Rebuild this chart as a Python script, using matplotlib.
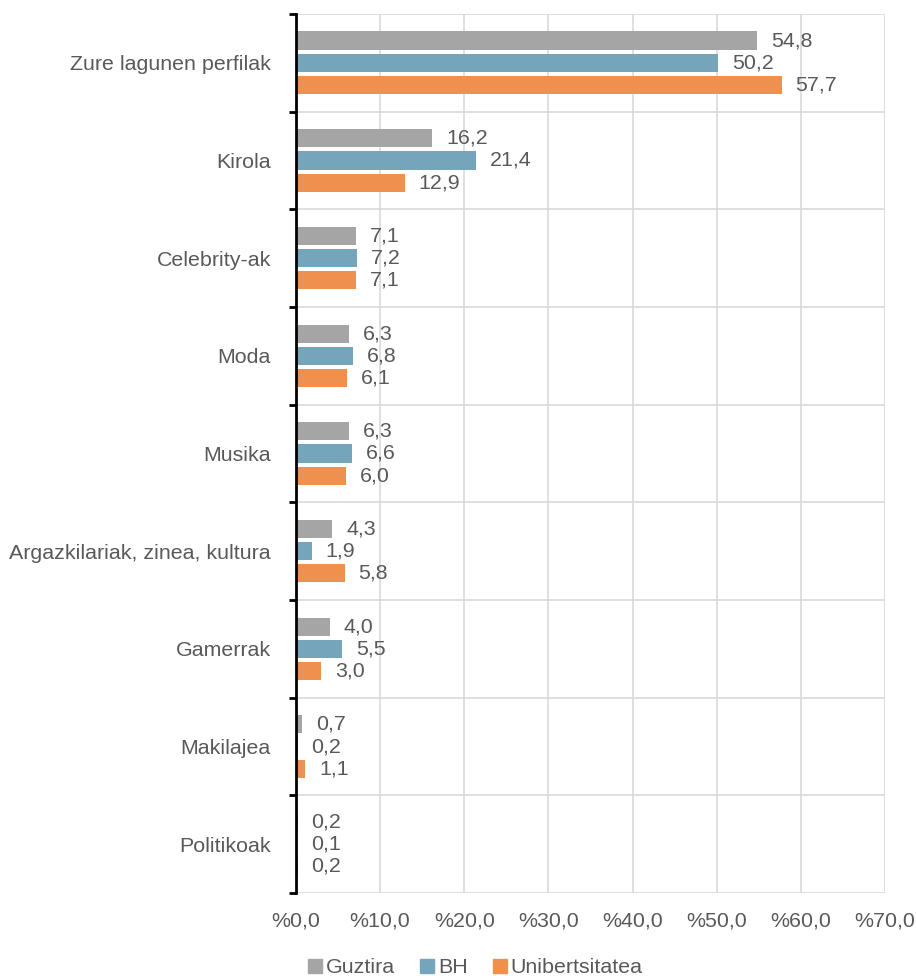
import numpy as np
import matplotlib.pyplot as plt
from matplotlib.lines import Line2D

plt.rcParams['font.family'] = ['Liberation Sans', 'DejaVu Sans']

categories = ['Zure lagunen perfilak', 'Kirola', 'Celebrity-ak', 'Moda', 'Musika',
              'Argazkilariak, zinea, kultura', 'Gamerrak', 'Makilajea', 'Politikoak']
guztira = [54.8, 16.2, 7.1, 6.3, 6.3, 4.3, 4.0, 0.7, 0.2]
bh = [50.2, 21.4, 7.2, 6.8, 6.6, 1.9, 5.5, 0.2, 0.1]
unib = [57.7, 12.9, 7.1, 6.1, 6.0, 5.8, 3.0, 1.1, 0.2]
series_names = ['Guztira', 'BH', 'Unibertsitatea']
colors = ['#a5a5a5', '#75a5bb', '#ef904f']
xticks = [0, 10, 20, 30, 40, 50, 60, 70]

text_color = '#595959'
fs = 15.4

fig = plt.figure(figsize=(9.16, 9.76), dpi=100)
ax = fig.add_axes([0.3231, 0.085, 0.6431, 0.9007])

y = np.arange(len(categories))
h = 0.185
step = 0.228
for i, (vals, c) in enumerate(zip([guztira, bh, unib], colors)):
    pos = y + (i - 1) * step
    ax.barh(pos, vals, height=h, color=c, zorder=3)
    for p, v in zip(pos, vals):
        ax.annotate(f'{v:.1f}'.replace('.', ','), xy=(v, p), xytext=(10, 0),
                    textcoords='offset points', va='center', ha='left',
                    fontsize=fs, color=text_color)

ax.set_xlim(0, 70)
ax.set_ylim(len(categories) - 0.5, -0.5)
ax.set_xticks(xticks)
ax.set_xticklabels([f'%{t},0' for t in xticks], fontsize=fs, color=text_color)
ax.tick_params(axis='x', length=0, pad=13)

ax.set_yticks(y)
ax.set_yticklabels(categories, fontsize=fs, color=text_color)
ax.tick_params(axis='y', which='major', length=0, pad=18)
ax.set_yticks(np.arange(len(categories) + 1) - 0.5, minor=True)
ax.tick_params(axis='y', which='minor', length=5, width=2, color='black', direction='out')

ax.grid(axis='x', which='major', color='#d9d9d9', linewidth=1.2, zorder=0)
ax.grid(axis='y', which='minor', color='#d9d9d9', linewidth=1.2, zorder=0)

for s in ['top', 'right', 'bottom']:
    ax.spines[s].set_visible(False)
ax.spines['left'].set_color('black')
ax.spines['left'].set_linewidth(2)
ax.spines['left'].set_zorder(4)

handles = [Line2D([], [], marker='s', linestyle='none', markersize=10,
                  markerfacecolor=c, markeredgecolor=c) for c in colors]
fig.legend(handles, series_names, loc='lower center', bbox_to_anchor=(0.517, -0.021),
           ncol=3, frameon=False, fontsize=fs, labelcolor=text_color,
           handletextpad=0.0, columnspacing=1.0, handlelength=1.0)

fig.savefig('out.png', dpi=100)
